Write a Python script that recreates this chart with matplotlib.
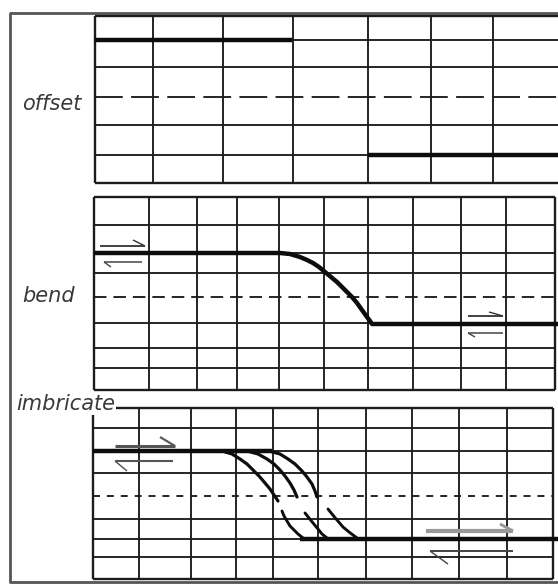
import matplotlib
matplotlib.use("Agg")
import matplotlib.pyplot as plt

plt.rcParams['lines.scale_dashes'] = False
plt.rcParams['lines.solid_capstyle'] = 'butt'

W, H = 558, 584

# ---------------- data (pixel-space layout of the schematic) ----------------
frame_box = [10, 13, 562, 582]            # left, top, right, bottom

# offset panel
off_x = [95, 153, 223, 293, 368, 431, 493, 562]
off_y = [16, 40, 67, 125, 155, 183]
off_dash = 97
off_hw_seg = [95, 292, 40]               # hanging wall block: x0, x1, y
off_fw_seg = [368, 562, 155]             # footwall block

# bend panel
bend_x = [94, 149, 197, 237, 279, 324, 368, 413, 461, 506, 555]
bend_y = [197, 225, 253, 273, 323, 348, 368, 390]
bend_dash = 297
bend_curve_x = [94, 280, 290, 300, 307, 313, 319, 325, 331, 337, 342, 347,
                352, 357, 362, 367, 370, 372, 562]
bend_curve_y = [253, 253, 254, 257, 260, 263, 267, 272, 277, 282, 287, 292,
                297, 303, 310, 317, 321, 324, 324]

# imbricate panel
imb_x = [93, 139, 191, 236, 273, 318, 366, 412, 459, 507, 553]
imb_y = [408, 428, 451, 473, 519, 539, 557, 579]
imb_dash = 496
imb_top_flat = [93, 272, 451]
imb_bot_flat = [300, 562, 539]
imb_upper = [
    ([222, 232, 240, 247, 253, 259, 265, 270, 274, 278],
     [451, 454, 459, 464, 470, 476, 483, 489, 495, 501]),
    ([247, 258, 267, 274, 280, 285, 290, 294, 297],
     [451, 454, 459, 464, 470, 476, 483, 490, 497]),
    ([269, 280, 288, 295, 302, 307, 312, 315, 317],
     [451, 454, 459, 464, 471, 477, 484, 491, 497]),
]
imb_lower = [
    ([282, 284, 287, 290, 294, 298, 303],
     [511, 516, 521, 526, 530, 534, 538]),
    ([305, 309, 313, 318, 322, 327],
     [513, 518, 523, 529, 534, 538]),
    ([328, 332, 337, 343, 349, 357],
     [509, 514, 520, 527, 532, 538]),
]

# shear-sense half arrows: x_start, x_end, y, barb_x, barb_y, colour, width
arrows = [
    (100, 145, 246, 133, 240, '#333333', 1.3),
    (104, 142, 262, 111, 267, '#444444', 1.1),
    (468, 503, 316, 489, 312, '#333333', 1.3),
    (468, 503, 333, 475, 337, '#444444', 1.1),
    (115, 175, 446, 160, 437, '#555555', 2.2),
    (115, 173, 461, 127, 471, '#555555', 1.5),
    (426, 513, 531, 500, 524, '#999999', 3.0),
    (430, 513, 551, 448, 564, '#444444', 1.4),
]

labels = ["offset", "bend", "imbricate"]
label_pos = [(22, 110), (22, 302), (16, 410)]

# ---------------- drawing ----------------
fig = plt.figure(figsize=(W / 100, H / 100), dpi=100)
ax = fig.add_axes([0, 0, 1, 1])
ax.set_xlim(0, W)
ax.set_ylim(H, 0)
ax.axis('off')

GRID = '#1c1c1c'
gl = 1.35


def grid_panel(xs, ys, dash_y, dashes):
    x0, x1 = xs[0], xs[-1]
    y0, y1 = ys[0], ys[-1]
    for x in xs:
        lw = 1.7 if x in (x0, x1) else gl
        ax.plot([x, x], [y0, y1], color=GRID, lw=lw, zorder=2)
    for y in ys:
        lw = 1.7 if y in (y0, y1) else gl
        ax.plot([x0, x1], [y, y], color=GRID, lw=lw, zorder=2)
    ax.plot([x0, x1], [dash_y, dash_y], color=GRID, lw=gl,
            dashes=dashes, zorder=2)


# outer frame
l, t, r, b = frame_box
ax.plot([r, l, l, r], [t, t, b, b], color='#555555', lw=2.0, zorder=1)

grid_panel(off_x, off_y, off_dash, (20, 6))
grid_panel(bend_x, bend_y, bend_dash, (9, 5))
grid_panel(imb_x, imb_y, imb_dash, (5, 5))

THICK = '#0d0d0d'
# offset
for x0, x1, y in (off_hw_seg, off_fw_seg):
    ax.plot([x0, x1], [y, y], color=THICK, lw=3.2, zorder=4)
# bend
ax.plot(bend_curve_x, bend_curve_y, color=THICK, lw=3.2, zorder=4,
        solid_joinstyle='round')
# imbricate
for x0, x1, y in (imb_top_flat, imb_bot_flat):
    ax.plot([x0, x1], [y, y], color=THICK, lw=3.2, zorder=4)
for xs, ys in imb_upper:
    ax.plot(xs, ys, color=THICK, lw=2.3, zorder=4, solid_capstyle='round',
            solid_joinstyle='round')
for xs, ys in imb_lower:
    ax.plot(xs, ys, color=THICK, lw=2.1, zorder=4, solid_capstyle='round',
            solid_joinstyle='round')

# half arrows
for xs, xe, y, bx, by, c, w in arrows:
    ax.plot([xs, xe], [y, y], color=c, lw=w, zorder=5)
    tip = xe if abs(bx - xe) < abs(bx - xs) else xs
    ax.plot([bx, tip], [by, y], color=c, lw=max(1.0, w * 0.7), zorder=5)

# labels
for txt, (x, y) in zip(labels, label_pos):
    kw = {}
    if txt == "imbricate":
        kw['bbox'] = dict(facecolor='white', edgecolor='none', pad=0.5)
    ax.text(x, y, txt, fontsize=15, style='italic', family='DejaVu Sans',
            color='#3a3a3a', ha='left', va='baseline', zorder=6, **kw)

fig.savefig('out.png', dpi=100)
